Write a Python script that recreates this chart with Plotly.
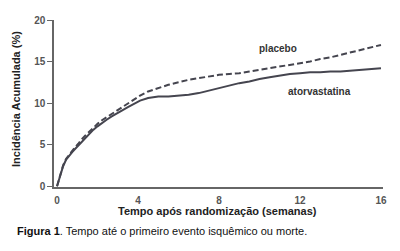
import plotly.graph_objects as go

weeks = [0, 0.1, 0.2, 0.3, 0.45, 0.6, 0.75, 0.9, 1.05, 1.2, 1.4, 1.6, 1.8, 2.0, 2.2, 2.45, 2.7, 2.95,
         3.2, 3.5, 3.8, 4.1, 4.5, 5, 5.5, 6, 6.5, 7, 7.5, 8, 8.5, 9, 9.5, 10, 10.5, 11, 11.5, 12,
         12.5, 13, 13.5, 14, 14.5, 15, 15.5, 16]
atorvastatina = [0, 0.8, 1.6, 2.4, 3.2, 3.7, 4.1, 4.5, 4.9, 5.3, 5.8, 6.3, 6.8, 7.2, 7.6, 8.0, 8.4, 8.8,
                 9.1, 9.5, 9.9, 10.3, 10.6, 10.8, 10.8, 10.9, 11.0, 11.2, 11.5, 11.8, 12.1, 12.4, 12.6,
                 12.9, 13.1, 13.3, 13.5, 13.6, 13.7, 13.7, 13.8, 13.8, 13.9, 14.0, 14.1, 14.2]
placebo = [0, 0.8, 1.7, 2.5, 3.3, 3.8, 4.3, 4.7, 5.1, 5.6, 6.1, 6.6, 7.1, 7.5, 7.9, 8.3, 8.7, 9.1,
           9.5, 9.9, 10.4, 10.9, 11.4, 11.8, 12.2, 12.5, 12.8, 13.0, 13.2, 13.4, 13.5, 13.6, 13.8,
           14.0, 14.2, 14.4, 14.6, 14.8, 15.0, 15.3, 15.5, 15.8, 16.1, 16.4, 16.7, 17.0]
x_ticks = [0, 4, 8, 12, 16]
y_ticks = [0, 5, 10, 15, 20]

FONT = "Liberation Sans, Arial, sans-serif"
LINE = "#45454f"

L, R, T, B = 54, 17, 20, 64
W, H = 400, 251
pw, ph = W - L - R, H - T - B


def px_to_paper(px, py):
    return (px - L) / pw, (H - B - py) / ph


fig = go.Figure()
fig.add_trace(go.Scatter(x=weeks, y=placebo, mode="lines",
                         line=dict(color=LINE, width=2, dash="6px,3px"), name="placebo"))
fig.add_trace(go.Scatter(x=weeks, y=atorvastatina, mode="lines",
                         line=dict(color=LINE, width=2), name="atorvastatina"))

xt, yt = px_to_paper(217, 211)
xy, yy = px_to_paper(16, 99)
xc, yc = px_to_paper(15, 231)

fig.update_layout(
    width=W, height=H,
    margin=dict(l=L, r=R, t=T, b=B),
    paper_bgcolor="white", plot_bgcolor="white",
    showlegend=False,
    font=dict(family=FONT, color="#333"),
    xaxis=dict(range=[-0.15, 16.1], tickvals=x_ticks, ticktext=[f"<b>{v}</b>" for v in x_ticks],
               showgrid=False, zeroline=False,
               showline=True, linecolor="#666", linewidth=1.5, ticks="",
               tickfont=dict(size=10, color="#555", family=FONT), ticklabelstandoff=3),
    yaxis=dict(range=[-0.1, 20], tickvals=y_ticks, ticktext=[f"<b>{v}</b>" for v in y_ticks],
               showgrid=False, zeroline=False,
               showline=True, linecolor="#666", linewidth=1.5, ticks="outside", ticklen=5,
               tickcolor="#666", tickwidth=1,
               tickfont=dict(size=10, color="#555", family=FONT)),
    annotations=[
        dict(text="<b>placebo</b>", x=10.9, y=16.6, xref="x", yref="y", showarrow=False,
             xanchor="center", yanchor="middle",
             font=dict(size=10, color="#333", family=FONT)),
        dict(text="<b>atorvastatina</b>", x=12.95, y=11.4, xref="x", yref="y", showarrow=False,
             xanchor="center", yanchor="middle",
             font=dict(size=10, color="#333", family=FONT)),
        dict(text="<b>Tempo após randomização (semanas)</b>", x=xt, y=yt,
             xref="paper", yref="paper", xanchor="center", yanchor="middle", showarrow=False,
             font=dict(size=11, color="#222", family=FONT)),
        dict(text="<b>Incidência Acumulada (%)</b>", x=xy, y=yy, textangle=-90,
             xref="paper", yref="paper", xanchor="center", yanchor="middle", showarrow=False,
             font=dict(size=11, color="#222", family=FONT)),
        dict(text="<b>Figura 1</b>. Tempo até o primeiro evento isquêmico ou morte.",
             x=xc, y=yc, xref="paper", yref="paper", xanchor="left", yanchor="middle",
             showarrow=False, font=dict(size=11, color="#111", family=FONT)),
    ],
)

fig.write_html("out.html")
